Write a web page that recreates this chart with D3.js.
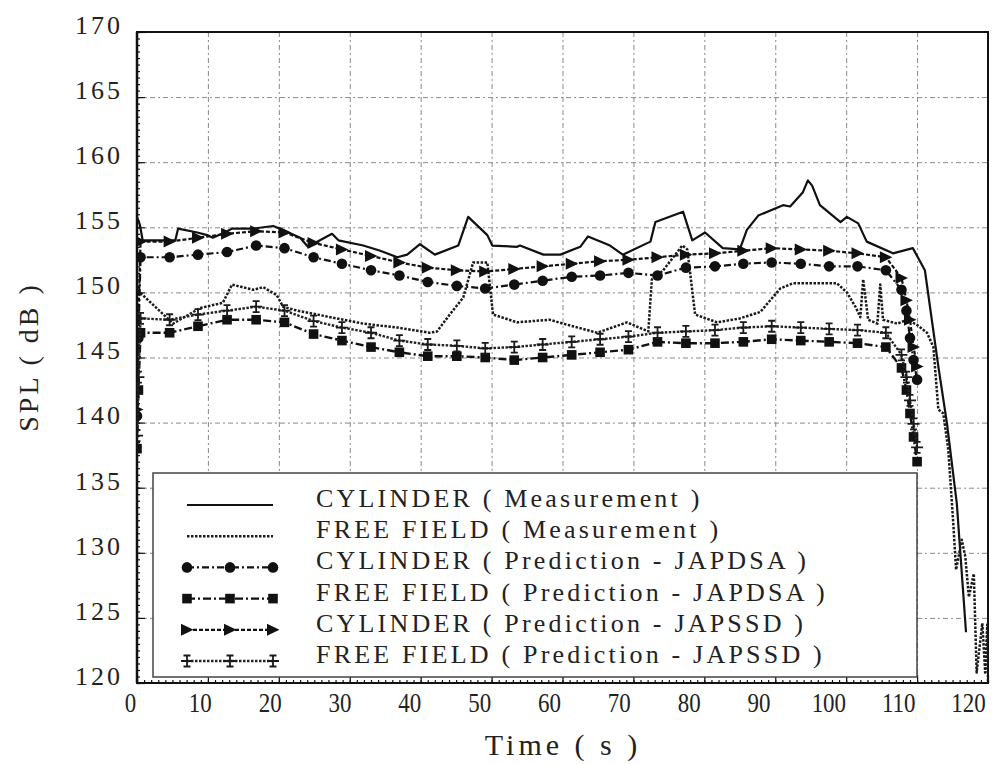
<!DOCTYPE html>
<html>
<head>
<meta charset="utf-8">
<script src="https://cdnjs.cloudflare.com/ajax/libs/d3/7.8.5/d3.min.js"></script>
<style>
body { margin: 0; background: #fff; }
text { font-family: "Liberation Serif", "DejaVu Serif", serif; fill: #222; }
</style>
</head>
<body>
<svg id="chart" width="997" height="765"></svg>
<script>
// ---- data ----
var xTicks = [0, 10, 20, 30, 40, 50, 60, 70, 80, 90, 100, 110, 120];
var yTicks = [120, 125, 130, 135, 140, 145, 150, 155, 160, 165, 170];

var legendLabels = [
  "CYLINDER ( Measurement )",
  "FREE FIELD ( Measurement )",
  "CYLINDER ( Prediction - JAPDSA )",
  "FREE FIELD ( Prediction - JAPDSA )",
  "CYLINDER ( Prediction - JAPSSD )",
  "FREE FIELD ( Prediction - JAPSSD )"
];

// measurements
var cylMeasT = [0, 0.4, 0.8, 5.4, 5.8, 8.5, 9.9, 10.7, 12.7, 13.4, 16.4, 19.2, 20.6, 23.0, 24.1, 25.8, 27.5, 28.4,
  31.9, 34.3, 36.7, 38.1, 39.9, 42.0, 45.3, 46.7, 49.4, 50.1, 53.6, 54.0, 57.3, 59.7, 62.5, 63.6, 66.7, 68.5,
  72.4, 73.1, 77.0, 78.3, 80.1, 82.6, 85.0, 86.0, 87.6, 91.1, 92.1, 93.9, 94.6, 95.2, 96.3, 99.2, 100.1, 101.7,
  102.9, 106.6, 109.4, 111.1, 113.0, 114.2, 115.6, 116.9];
var cylMeasV = [155.8, 155.2, 154.0, 154.0, 154.9, 154.6, 154.4, 154.2, 154.7, 154.9, 154.9, 155.1, 154.8, 154.2, 153.5, 154.0, 154.5, 154.0,
  153.6, 153.2, 152.7, 152.9, 153.7, 152.9, 153.6, 155.8, 154.4, 153.6, 153.5, 153.6, 152.9, 152.9, 153.5, 154.3, 153.6, 152.9,
  153.9, 155.4, 156.2, 154.0, 154.6, 153.4, 153.3, 154.8, 155.9, 156.7, 156.6, 157.7, 158.6, 158.2, 156.7, 155.4, 155.8, 155.3,
  153.9, 153.0, 153.4, 151.7, 144.3, 140.0, 133.8, 123.9];

var ffMeasT = [0, 0.4, 5.1, 8.9, 12.1, 13.4, 16.4, 17.8, 19.7, 20.6, 22.6, 31.9, 36.7, 41.3, 42.3, 44.1, 46.0, 47.4, 49.4,
  50.2, 53.6, 58.2, 60.1, 64.9, 69.1, 72.1, 72.6, 74.2, 76.9, 77.6, 78.7, 81.8, 85.0, 87.9, 89.3, 90.7, 92.5, 98.7,
  100.1, 101.3, 102.0, 102.4, 103.1, 104.4, 104.8, 105.2, 107.2, 108.6, 110.0, 111.4, 112.3, 113.0, 113.7, 114.4,
  115.1, 115.5, 116.3, 116.8, 117.3, 118.0, 118.4, 119.2, 119.6, 119.9, 120.0];
var ffMeasV = [150.5, 150.0, 147.6, 148.8, 149.2, 150.6, 150.2, 150.4, 149.8, 148.9, 148.6, 147.6, 147.3, 146.9, 147.0, 148.3, 149.6, 152.3, 152.3,
  148.3, 147.7, 147.9, 147.6, 146.9, 147.7, 147.0, 151.0, 151.7, 153.6, 153.3, 148.3, 147.7, 148.0, 148.5, 149.4, 150.3, 150.7, 150.7,
  150.0, 148.9, 148.1, 151.0, 147.9, 147.6, 150.6, 147.9, 147.6, 147.9, 147.5, 146.9, 145.8, 141.0, 140.7, 137.9,
  132.3, 128.7, 131.0, 129.7, 126.6, 128.4, 120.8, 124.6, 120.8, 124.5, 120.0];

// predictions (shared time steps)
var predT = [0, 0.2, 0.5, 4.6, 8.6, 12.7, 16.8, 20.8, 24.9, 28.9, 33.0, 37.0, 41.0, 45.1, 49.1, 53.2, 57.2,
  61.3, 65.3, 69.3, 73.4, 77.4, 81.5, 85.5, 89.5, 93.6, 97.6, 101.6, 105.6, 107.8, 108.5, 109.0, 109.5, 110.0];
var cylJapdsa = [140.5, 146.5, 152.7, 152.7, 152.9, 153.1, 153.6, 153.4, 152.7, 152.2, 151.7, 151.3, 150.8, 150.5, 150.3, 150.6, 150.9,
  151.2, 151.3, 151.5, 151.3, 151.9, 152.0, 152.2, 152.3, 152.2, 152.0, 152.0, 151.7, 150.2, 148.6, 146.5, 144.8, 143.3];
var ffJapdsa = [138.0, 142.5, 146.9, 146.9, 147.4, 147.9, 147.9, 147.7, 146.8, 146.3, 145.8, 145.4, 145.1, 145.1, 145.0, 144.8, 145.0,
  145.2, 145.4, 145.6, 146.2, 146.1, 146.1, 146.2, 146.4, 146.3, 146.2, 146.1, 145.8, 144.2, 142.5, 140.7, 138.9, 137.0];
var cylJapssd = [141.0, 148.0, 153.9, 153.9, 154.2, 154.5, 154.7, 154.6, 153.8, 153.3, 152.8, 152.3, 151.9, 151.7, 151.6, 151.8, 152.0,
  152.2, 152.4, 152.5, 152.7, 152.9, 153.0, 153.2, 153.4, 153.3, 153.2, 153.0, 152.7, 151.1, 149.4, 147.9, 145.8, 144.3];
var ffJapssd = [139.0, 143.5, 148.0, 147.9, 148.3, 148.6, 148.9, 148.6, 147.8, 147.3, 146.9, 146.3, 146.0, 145.9, 145.7, 145.8, 146.0,
  146.2, 146.4, 146.6, 146.9, 147.0, 147.1, 147.3, 147.4, 147.3, 147.2, 147.1, 146.9, 145.2, 143.5, 141.7, 139.9, 138.1];

// ---- layout ----
var svg = d3.select("#chart"),
    margin = {top: 32, right: 9, bottom: 82, left: 137},
    width = +svg.attr("width") - margin.left - margin.right,
    height = +svg.attr("height") - margin.top - margin.bottom,
    g = svg.append("g").attr("transform", "translate(" + margin.left + "," + margin.top + ")");

var x = d3.scaleLinear().domain([0, 120]).range([0, width]);
var y = d3.scaleLinear().domain([120, 170]).range([height, 0]);
// tick labels in the original sit a little left of their ticks, more so to the right
var xLabel = d3.scaleLinear().domain([0, 120]).range([-7, width - 20]);

function zip(ts, vs) { return ts.map(function(t, i) { return {t: t, v: vs[i]}; }); }

var line = d3.line()
    .x(function(d) { return x(d.t); })
    .y(function(d) { return y(d.v); });

// grid
g.append("g")
    .call(d3.axisBottom(x).tickValues(xTicks).tickSize(height).tickFormat(""))
    .call(gridStyle);
g.append("g")
    .call(d3.axisRight(y).tickValues(yTicks).tickSize(width).tickFormat(""))
    .call(gridStyle);

function gridStyle(s) {
  s.select(".domain").remove();
  s.selectAll(".tick line").attr("stroke", "#8a8a8a").attr("stroke-width", 1).attr("stroke-dasharray", "5,3,2,3");
}

svg.append("clipPath").attr("id", "plot-clip")
  .append("rect").attr("x", margin.left).attr("y", margin.top).attr("width", width).attr("height", height);

var plot = svg.append("g").attr("clip-path", "url(#plot-clip)")
  .append("g").attr("transform", "translate(" + margin.left + "," + margin.top + ")");

var series = [
  {data: zip(cylMeasT, cylMeasV), dash: null, width: 2.2, color: "#111", marker: null},
  {data: zip(ffMeasT, ffMeasV), dash: "2.5,1.5", width: 2.5, color: "#1a1a1a", marker: null},
  {data: zip(predT, cylJapdsa), dash: "7,3,2,3", width: 2.2, color: "#111", marker: "circle"},
  {data: zip(predT, ffJapdsa), dash: "8,3,2,3", width: 2.4, color: "#111", marker: "square"},
  {data: zip(predT, cylJapssd), dash: "4,2", width: 2.2, color: "#111", marker: "triangle"},
  {data: zip(predT, ffJapssd), dash: "2.5,1.5", width: 2.4, color: "#222", marker: "cross"}
];

function drawMarker(sel, type) {
  if (type === "circle") {
    sel.append("circle").attr("r", 5.3).attr("fill", "#111");
  } else if (type === "square") {
    sel.append("rect").attr("x", -4.8).attr("y", -4.8).attr("width", 9.6).attr("height", 9.6).attr("fill", "#111");
  } else if (type === "triangle") {
    sel.append("path").attr("d", "M-6,-6L6.5,0L-6,6Z").attr("fill", "#111");
  } else if (type === "cross") {
    sel.append("path").attr("d", "M-3.5,-5.5H3.5M0,-5.5V5.5M-3.5,5.5H3.5M-6,0H6")
      .attr("fill", "none").attr("stroke", "#1a1a1a").attr("stroke-width", 1.8);
  }
}

series.forEach(function(s) {
  plot.append("path")
      .datum(s.data)
      .attr("fill", "none")
      .attr("stroke", s.color)
      .attr("stroke-width", s.width)
      .attr("stroke-linejoin", "round")
      .attr("stroke-dasharray", s.dash)
      .attr("d", line);
  if (s.marker) {
    plot.selectAll(null)
        .data(s.data)
      .enter().append("g")
        .attr("transform", function(d) { return "translate(" + x(d.t) + "," + y(d.v) + ")"; })
        .each(function() { drawMarker(d3.select(this), s.marker); });
  }
});

// legend
var legend = svg.append("g").attr("transform", "translate(153,473)");
legend.append("rect")
    .attr("width", 764).attr("height", 204)
    .attr("fill", "#fff").attr("stroke", "#444").attr("stroke-width", 1.5);

var rows = legend.selectAll(".row")
    .data(series)
  .enter().append("g")
    .attr("class", "row")
    .attr("transform", function(d, i) { return "translate(0," + (32 + i * 31.2) + ")"; });

rows.append("line")
    .attr("x1", 34).attr("x2", 120)
    .attr("stroke", function(d) { return d.color; })
    .attr("stroke-width", function(d) { return d.width; })
    .attr("stroke-dasharray", function(d) { return d.dash; });

rows.each(function(d) {
  if (!d.marker) return;
  var r = d3.select(this);
  [34, 77, 120].forEach(function(px) {
    drawMarker(r.append("g").attr("transform", "translate(" + px + ",0)"), d.marker);
  });
});

rows.append("text")
    .attr("x", 163).attr("y", 2)
    .attr("font-size", 26)
    .attr("letter-spacing", 3.2)
    .text(function(d, i) { return legendLabels[i]; });

// frame
g.append("rect")
    .attr("width", width).attr("height", height)
    .attr("fill", "none").attr("stroke", "#111").attr("stroke-width", 2);

// axes
g.append("g")
    .call(d3.axisLeft(y).tickValues(d3.range(120, 170.01, 0.5)).tickSize(-3).tickFormat(""))
    .call(tickStyle);
g.append("g")
    .call(d3.axisLeft(y).tickValues(yTicks).tickSize(-8).tickPadding(14))
    .call(tickStyle)
    .call(function(s) {
      s.selectAll(".tick text").attr("y", -7).attr("font-size", 26).attr("letter-spacing", 3)
        .attr("font-family", "Liberation Serif, serif").attr("fill", "#222");
    });

g.append("g")
    .attr("transform", "translate(0," + height + ")")
    .call(d3.axisBottom(x).tickValues(d3.range(0, 121, 1)).tickSize(-3).tickFormat(""))
    .call(tickStyle);
g.append("g")
    .attr("transform", "translate(0," + height + ")")
    .call(d3.axisBottom(x).tickValues(xTicks).tickSize(-8).tickPadding(10))
    .call(tickStyle)
    .call(function(s) {
      s.selectAll(".tick text").attr("font-size", 27).attr("dy", "0.71em")
        .attr("transform", function(d) { return "translate(" + (xLabel(d) - x(d)) + ",0) scale(0.85,1)"; })
        .attr("font-family", "Liberation Serif, serif").attr("fill", "#222");
    });

// thick left axis line
g.append("line").attr("y1", 0).attr("y2", height).attr("stroke", "#111").attr("stroke-width", 2.5);

function tickStyle(s) {
  s.select(".domain").remove();
  s.selectAll(".tick line").attr("stroke", "#111").attr("stroke-width", 1.2);
}

// titles
svg.append("text")
    .attr("transform", "translate(38,357) rotate(-90)")
    .attr("text-anchor", "middle")
    .attr("font-size", 28)
    .attr("letter-spacing", 3)
    .text("SPL ( dB )");

svg.append("text")
    .attr("x", 563).attr("y", 755)
    .attr("text-anchor", "middle")
    .attr("font-size", 30)
    .attr("letter-spacing", 4)
    .text("Time ( s )");
</script>
</body>
</html>
